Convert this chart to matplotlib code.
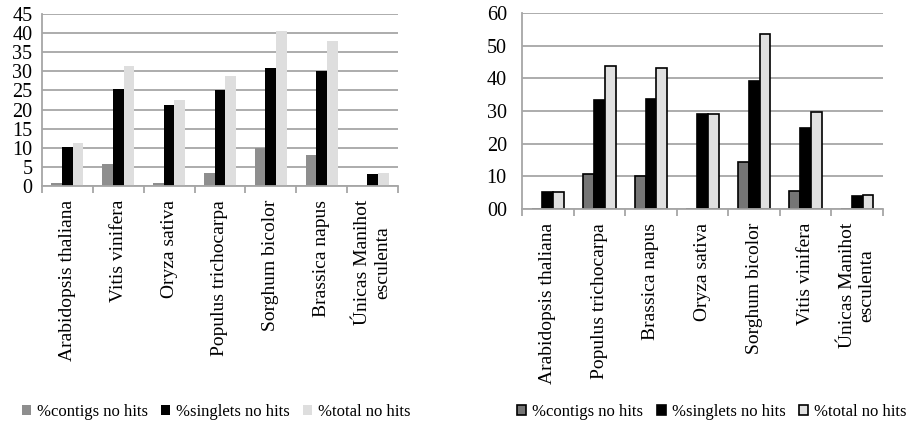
import numpy as np
import matplotlib
matplotlib.use("Agg")
import matplotlib.pyplot as plt

plt.rcParams['font.family'] = ['Liberation Serif', 'DejaVu Serif']

# datos del gráfico izquierdo
cats_izq = ['Arabidopsis thaliana', 'Vitis vinifera', 'Oryza sativa',
            'Populus trichocarpa', 'Sorghum bicolor', 'Brassica napus',
            'Únicas Manihot\nesculenta']
contigs_izq = [0.8, 5.8, 0.8, 3.5, 10.0, 8.0, 0.0]
singlets_izq = [10.3, 25.5, 21.3, 25.2, 30.8, 30.0, 3.1]
total_izq = [11.3, 31.3, 22.4, 28.7, 40.6, 38.0, 3.4]
yticks_izq = [0, 5, 10, 15, 20, 25, 30, 35, 40, 45]

# datos del gráfico derecho
cats_der = ['Arabidopsis thaliana', 'Populus trichocarpa', 'Brassica napus',
            'Oryza sativa', 'Sorghum bicolor', 'Vitis vinifera',
            'Únicas Manihot\nesculenta']
contigs_der = [0.0, 10.7, 10.0, 0.0, 14.3, 5.5, 0.0]
singlets_der = [5.1, 33.3, 33.6, 29.1, 39.2, 24.7, 4.1]
total_der = [5.3, 43.9, 43.3, 29.2, 53.5, 29.8, 4.3]
yticks_der = [0, 10, 20, 30, 40, 50, 60]
ylabels_der = ['00', '10', '20', '30', '40', '50', '60']

series = ['%contigs no hits', '%singlets no hits', '%total no hits']

fig = plt.figure(figsize=(9.09, 4.25), dpi=100)
ax1 = fig.add_axes([0.0462, 0.5624, 0.3916, 0.4047])
ax2 = fig.add_axes([0.5743, 0.5082, 0.3971, 0.4612])

w = 0.21
grid_col = '#a6a6a6'


def estilo(ax, cats, yticks, ylim):
    x = np.arange(len(cats))
    ax.set_xlim(-0.5, len(cats) - 0.5)
    ax.set_ylim(0, ylim)
    ax.set_yticks(yticks)
    ax.yaxis.grid(True, color=grid_col, linewidth=1.3)
    ax.set_axisbelow(True)
    for s in ['top', 'right']:
        ax.spines[s].set_visible(False)
    ax.spines['left'].set_color(grid_col)
    ax.spines['bottom'].set_color(grid_col)
    ax.spines['left'].set_linewidth(1.3)
    ax.spines['bottom'].set_linewidth(1.3)
    # ticks entre categorías
    ax.set_xticks(np.arange(-0.5, len(cats), 1.0))
    ax.set_xticklabels([])
    ax.set_xticks(x, minor=True)
    ax.set_xticklabels(cats, minor=True, rotation=90, fontsize=14,
                       va='top', ha='center', multialignment='center')
    ax.tick_params(axis='x', which='major', length=5, color=grid_col, width=1.3)
    ax.tick_params(axis='x', which='minor', length=0, pad=10)
    ax.tick_params(axis='y', length=0, labelsize=14.5, pad=7)
    return x


# gráfico izquierdo
x = estilo(ax1, cats_izq, yticks_izq, 45)
ax1.bar(x - w, contigs_izq, w, color='#8e8e8e', label=series[0])
ax1.bar(x, singlets_izq, w, color='#000000', label=series[1])
ax1.bar(x + w, total_izq, w, color='#dedede', label=series[2])
ax1.legend(loc='center', bbox_to_anchor=(0.238, 0.031),
           bbox_transform=fig.transFigure, ncol=3, frameon=False,
           fontsize=12, handlelength=0.55, handleheight=0.55,
           handletextpad=0.35, columnspacing=0.8)

# gráfico derecho
x = estilo(ax2, cats_der, yticks_der, 60)
ax2.set_yticklabels(ylabels_der)
ax2.tick_params(axis='y', pad=11)
ax2.bar(x - w, contigs_der, w, color='#757575', edgecolor='black',
        linewidth=1.2, label=series[0])
ax2.bar(x, singlets_der, w, color='#000000', edgecolor='black',
        linewidth=1.2, label=series[1])
ax2.bar(x + w, total_der, w, color='#e0e0e0', edgecolor='black',
        linewidth=1.2, label=series[2])
ax2.legend(loc='center', bbox_to_anchor=(0.783, 0.031),
           bbox_transform=fig.transFigure, ncol=3, frameon=False,
           fontsize=12, handlelength=0.55, handleheight=0.55,
           handletextpad=0.35, columnspacing=0.8)

plt.savefig('out.png', dpi=100)
